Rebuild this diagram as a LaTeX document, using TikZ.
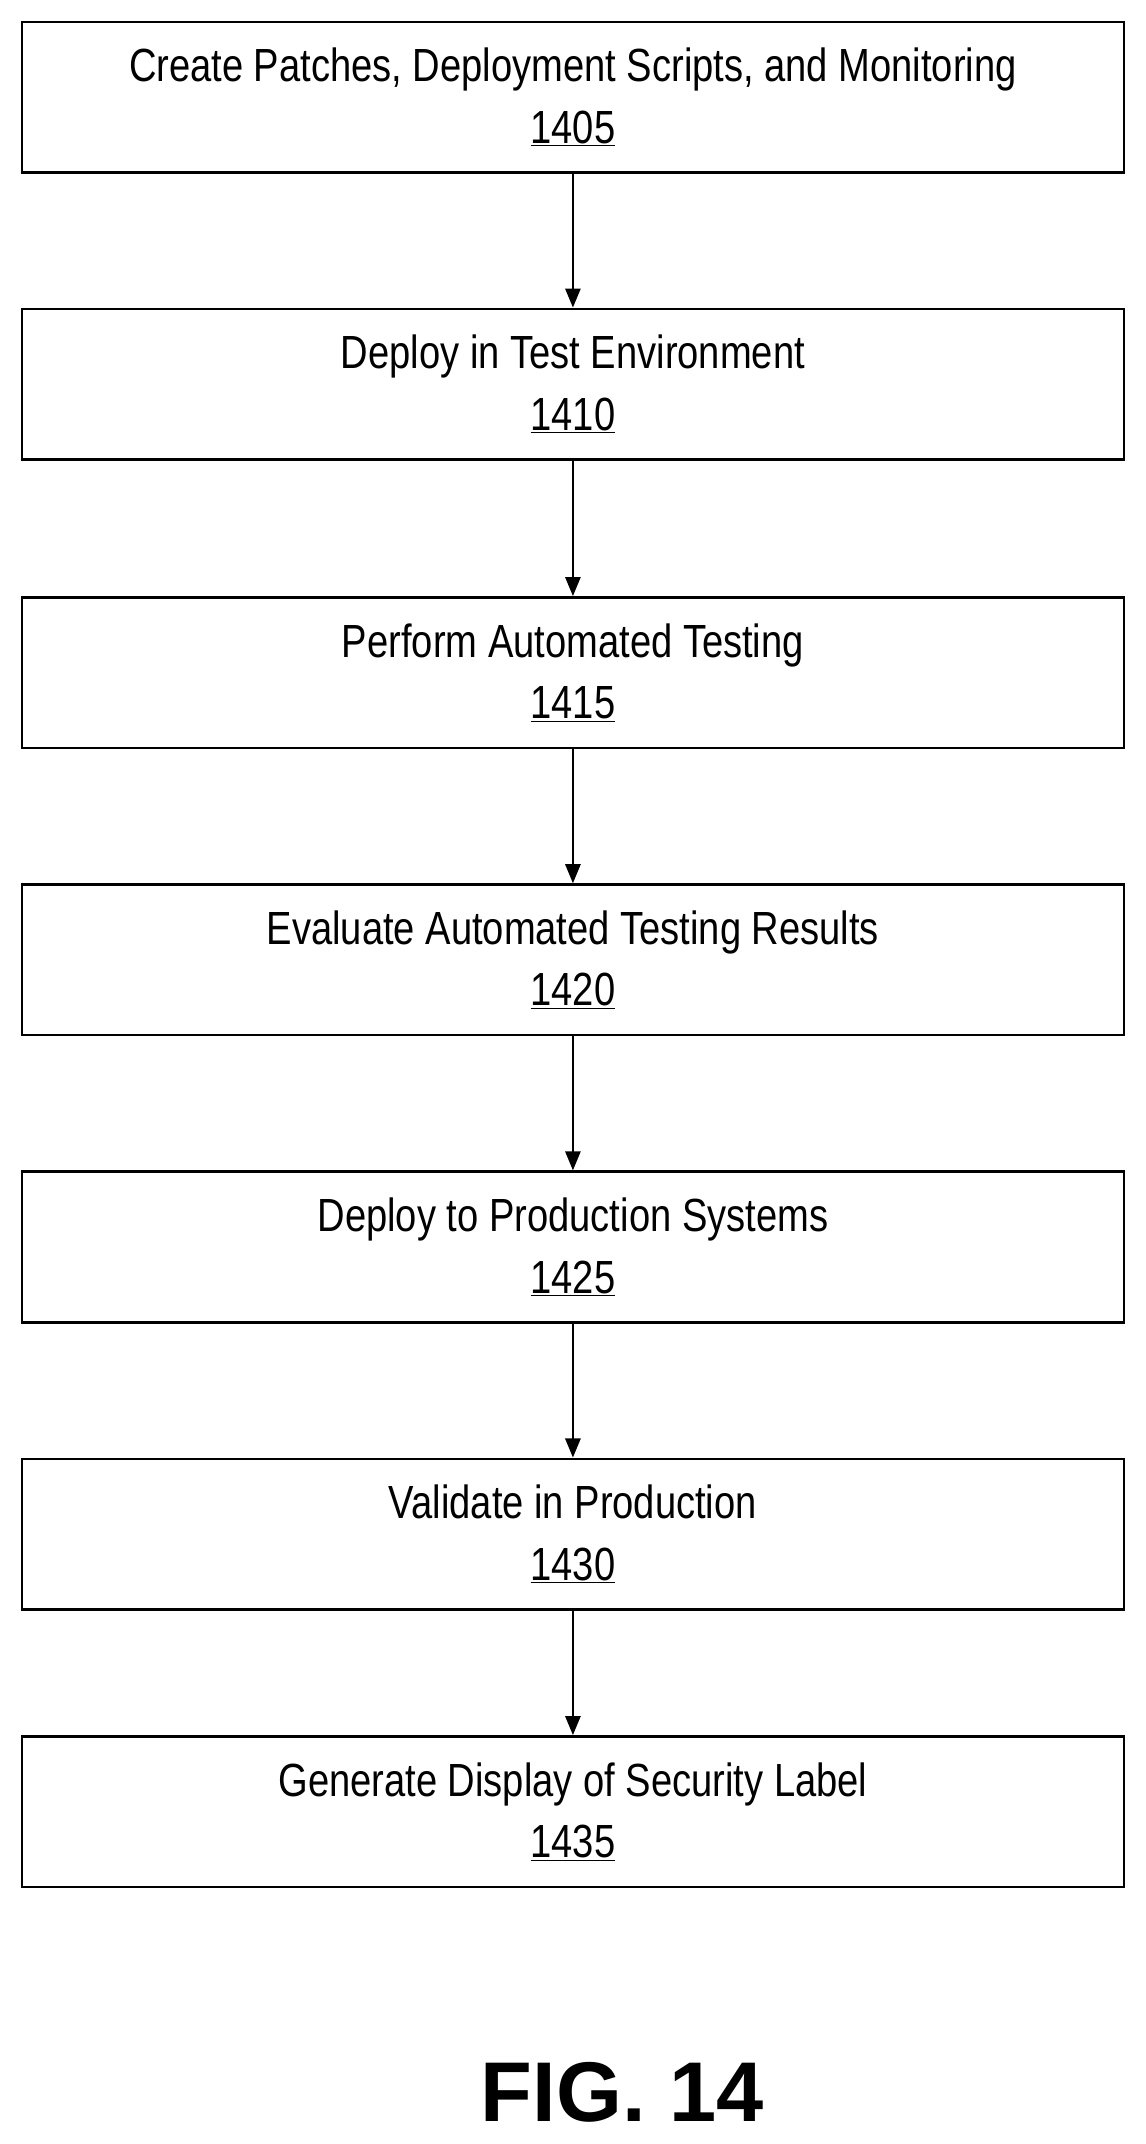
\documentclass[tikz,border=0pt]{standalone}
\usepackage{fontspec}
\setmainfont{Liberation Sans}
\usetikzlibrary{arrows.meta}
\newcommand{\nar}[1]{\scalebox{0.82}[1]{#1}}
\begin{document}
\begin{tikzpicture}[x=1pt,y=-1pt,
  box/.style={draw,line width=2pt,minimum width=806pt,minimum height=110pt,inner sep=0pt,align=center,font=\fontsize{34}{45}\selectfont},
  arr/.style={line width=2pt,-{Triangle[length=14pt,width=11pt]}}]
\useasboundingbox (0,0) rectangle (838,1568);
\node[box] (a) at (419,71) {\nar{Create Patches, Deployment Scripts, and Monitoring}\\\nar{\underline{1405}}};
\node[box] (b) at (419,281) {\nar{Deploy in Test Environment}\\\nar{\underline{1410}}};
\node[box] (c) at (419,492) {\nar{Perform Automated Testing}\\\nar{\underline{1415}}};
\node[box] (d) at (419,702) {\nar{Evaluate Automated Testing Results}\\\nar{\underline{1420}}};
\node[box] (e) at (419,912) {\nar{Deploy to Production Systems}\\\nar{\underline{1425}}};
\node[box] (f) at (419,1122) {\nar{Validate in Production}\\\nar{\underline{1430}}};
\node[box] (g) at (419,1325) {\nar{Generate Display of Security Label}\\\nar{\underline{1435}}};
\foreach \s/\t in {a/b,b/c,c/d,d/e,e/f,f/g} \draw[arr] (\s) -- (\t);
\node[font=\fontsize{62}{70}\selectfont\bfseries] (fig) at (455,1530) {FIG. 14};
\end{tikzpicture}
\end{document}
